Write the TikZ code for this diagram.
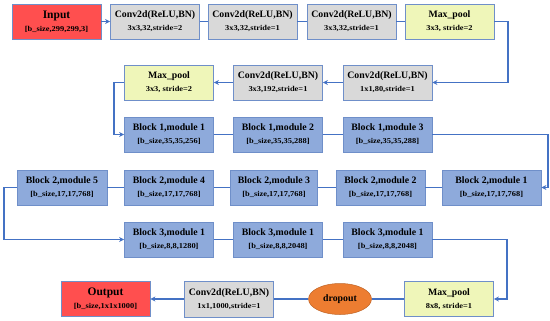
\documentclass[tikz,border=0pt]{standalone}
\usepackage{fontspec}
\setmainfont{Liberation Serif}
\usetikzlibrary{arrows.meta,shapes.geometric}
\definecolor{bordc}{HTML}{6F8FC9}
\definecolor{linec}{HTML}{4472C4}
\definecolor{redf}{HTML}{FF4F4F}
\definecolor{grayf}{HTML}{D9D9D9}
\definecolor{yelf}{HTML}{EFF6B9}
\definecolor{bluef}{HTML}{8EAADB}
\definecolor{orf}{HTML}{ED7D31}
\newfontfamily\subfam[FakeStretch=1.12]{Liberation Serif}
\newcommand{\titf}{\fontsize{9.8}{10}\selectfont\bfseries}
\newcommand{\bigtitf}{\fontsize{11.5}{12}\selectfont\bfseries}
\newcommand{\subf}{\subfam\fontsize{7.5}{8}\selectfont\bfseries}
\newcommand{\bx}[2]{{\titf #1}\\[1pt]{\subf #2}}
\begin{document}
\begin{tikzpicture}[x=1pt,y=-1pt,
  box/.style={draw=bordc, line width=0.8pt, minimum width=89pt, minimum height=35pt, inner sep=0pt, align=center},
  convbox/.style={box, fill=grayf},
  poolbox/.style={box, fill=yelf},
  blockbox/.style={box, fill=bluef},
  iobox/.style={box, fill=redf},
  conn/.style={draw=linec, line width=1.3pt},
  arr/.style={conn, -{Stealth[length=5pt,width=5pt]}}]
\useasboundingbox (0,0) rectangle (550,321);
% row 1
\node[iobox] (in) at (56.5,21.5) {{\bigtitf Input}\\[1pt]{\subf [b\_size,299,299,3]}};
\node[convbox] (c1) at (155,21.5) {\bx{Conv2d(ReLU,BN)}{3x3,32,stride=2}};
\node[convbox] (c2) at (252.5,21.5) {\bx{Conv2d(ReLU,BN)}{3x3,32,stride=1}};
\node[convbox] (c3) at (351.5,21.5) {\bx{Conv2d(ReLU,BN)}{3x3,32,stride=1}};
\node[poolbox] (mp1) at (449.5,21.5) {\bx{Max\_pool}{3x3, stride=2}};
% row 2
\node[convbox] (c4) at (387.5,82.5) {\bx{Conv2d(ReLU,BN)}{1x1,80,stride=1}};
\node[convbox] (c5) at (278,82.5) {\bx{Conv2d(ReLU,BN)}{3x3,192,stride=1}};
\node[poolbox] (mp2) at (169,82.5) {\bx{Max\_pool}{3x3, stride=2}};
% row 3
\node[blockbox] (b11) at (169,134.5) {\bx{Block 1,module 1}{[b\_size,35,35,256]}};
\node[blockbox] (b12) at (278,134.5) {\bx{Block 1,module 2}{[b\_size,35,35,288]}};
\node[blockbox] (b13) at (387.5,134.5) {\bx{Block 1,module 3}{[b\_size,35,35,288]}};
% row 4
\node[blockbox, minimum width=99pt] (b21) at (491.5,187.5) {\bx{Block 2,module 1}{[b\_size,17,17,768]}};
\node[blockbox] (b22) at (380.5,187.5) {\bx{Block 2,module 2}{[b\_size,17,17,768]}};
\node[blockbox, minimum width=87pt] (b23) at (274,187.5) {\bx{Block 2,module 3}{[b\_size,17,17,768]}};
\node[blockbox] (b24) at (169,187.5) {\bx{Block 2,module 4}{[b\_size,17,17,768]}};
\node[blockbox, minimum width=90pt] (b25) at (62,187.5) {\bx{Block 2,module 5}{[b\_size,17,17,768]}};
% row 5
\node[blockbox] (b31) at (169,239.5) {\bx{Block 3,module 1}{[b\_size,8,8,1280]}};
\node[blockbox] (b32) at (278,239.5) {\bx{Block 3,module 1}{[b\_size,8,8,2048]}};
\node[blockbox] (b33) at (387.5,239.5) {\bx{Block 3,module 1}{[b\_size,8,8,2048]}};
% row 6
\node[poolbox] (mp3) at (449,299) {\bx{Max\_pool}{8x8, stride=1}};
\node[ellipse, draw=orf!80!black, line width=0.5pt, fill=orf, minimum width=63pt, minimum height=31pt, inner sep=0pt] (dr) at (340,299) {\titf dropout};
\node[convbox, minimum height=36pt] (c6) at (229,299) {\bx{Conv2d(ReLU,BN)}{1x1,1000,stride=1}};
\node[iobox] (out) at (105.5,299) {{\bigtitf Output}\\[1pt]{\subf [b\_size,1x1x1000]}};
% coordinates
\coordinate (k1) at (508,21.5);
\coordinate (k2) at (508,82.5);
\coordinate (k3) at (114,82.5);
\coordinate (k4) at (114,134.5);
\coordinate (k5) at (548,134.5);
\coordinate (k6) at (548,187.5);
\coordinate (k7) at (4,187.5);
\coordinate (k8) at (4,239.5);
\coordinate (k9) at (507,239.5);
\coordinate (k10) at (507,299);
% connectors
\draw[arr] (in) -- (c1);
\draw[conn] (c1) -- (c2);
\draw[conn] (c2) -- (c3);
\draw[conn] (c3) -- (mp1);
\draw[arr] (mp1.east) -- (k1) -- (k2) -- (c4.east);
\draw[arr] (c4) -- (c5);
\draw[arr] (c5) -- (mp2);
\draw[arr] (mp2.west) -- (k3) -- (k4) -- (b11.west);
\draw[conn] (b11) -- (b12);
\draw[conn] (b12) -- (b13);
\draw[arr] (b13.east) -- (k5) -- (k6) -- (b21.east);
\draw[conn] (b21) -- (b22);
\draw[conn] (b22) -- (b23);
\draw[conn] (b23) -- (b24);
\draw[conn] (b24) -- (b25);
\draw[arr] (b25.west) -- (k7) -- (k8) -- (b31.west);
\draw[conn] (b31) -- (b32);
\draw[conn] (b32) -- (b33);
\draw[arr] (b33.east) -- (k9) -- (k10) -- (mp3.east);
\draw[conn] (mp3) -- (dr);
\draw[conn] (dr) -- (c6);
\draw[arr] (c6) -- (out);
\end{tikzpicture}
\end{document}
